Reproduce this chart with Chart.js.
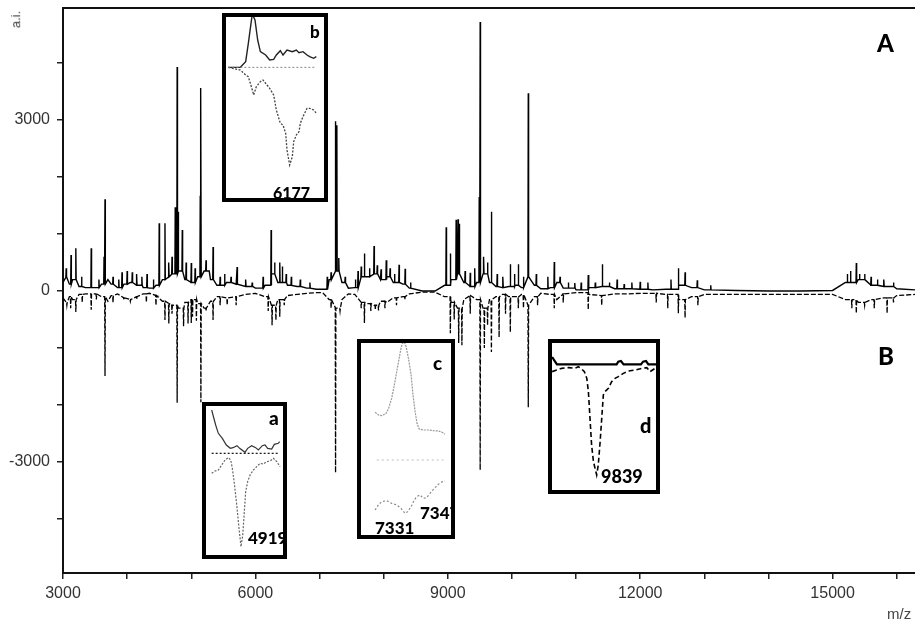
<!DOCTYPE html>
<html>
<head>
<meta charset="utf-8">
<script src="https://cdn.jsdelivr.net/npm/chart.js@4.4.1/dist/chart.umd.min.js"></script>
<style>
  body { margin: 0; background: #fff; }
  #wrap { position: relative; width: 915px; height: 625px; overflow: hidden; }
  #main { position: absolute; left: 0; top: 0; }
  .inset { position: absolute; box-sizing: border-box; border: 4px solid #000; background: #fff; overflow: hidden; }
  .inset canvas { position: absolute; left: 0; top: 0; }
  .tag { position: absolute; font-family: Lato, "Open Sans", sans-serif; font-weight: 900; line-height: 1; color: #000; white-space: nowrap; }
  .axt { position: absolute; font-family: "Liberation Sans", Arial, sans-serif; line-height: 1; color: #444; white-space: nowrap; }
</style>
</head>
<body>
<div id="wrap">
  <canvas id="main" width="915" height="625"></canvas>

  <div class="inset" style="left:222px;top:13px;width:106px;height:189px">
    <canvas id="insetB" width="98" height="181"></canvas>
    <span class="tag" style="left:84px;top:6px;font-size:17px">b</span>
    <span class="tag" style="left:47px;top:168px;font-size:16px">6177</span>
  </div>
  <div class="inset" style="left:202px;top:402px;width:85px;height:157px">
    <canvas id="insetA" width="77" height="149"></canvas>
    <span class="tag" style="left:63px;top:2px;font-size:19px">a</span>
    <span class="tag" style="left:42px;top:123px;font-size:17px">4919</span>
  </div>
  <div class="inset" style="left:357px;top:339px;width:98px;height:200px">
    <canvas id="insetC" width="90" height="192"></canvas>
    <span class="tag" style="left:72px;top:10px;font-size:19px">c</span>
    <span class="tag" style="left:59px;top:161px;font-size:17px">7347</span>
    <span class="tag" style="left:14px;top:176px;font-size:17px">7331</span>
  </div>
  <div class="inset" style="left:548px;top:339px;width:112px;height:155px">
    <canvas id="insetD" width="104" height="147"></canvas>
    <span class="tag" style="left:88px;top:72px;font-size:20px">d</span>
    <span class="tag" style="left:49px;top:124px;font-size:18px">9839</span>
  </div>

  <span class="tag" style="left:877px;top:31px;font-size:24px">A</span>
  <span class="tag" style="left:878px;top:344px;font-size:24px">B</span>
  <span class="axt" style="left:7px;top:13px;font-size:13px;transform:rotate(-90deg)">a.i.</span>
  <span class="axt" style="left:887px;top:606px;font-size:15px">m/z</span>
</div>

<script>
// main spectrum: baseline level + peaks (m/z, a.i.)
var baseMz = [3000, 3050, 3100, 3150, 3250, 3350, 3500, 3600, 3700, 3750,
  3850, 3950, 4050, 4150, 4250, 4350, 4450, 4550, 4650, 4700,
  4800, 4900, 5000, 5100, 5200, 5300, 5400, 5550, 5700, 5850,
  6000, 6150, 6250, 6350, 6500, 6650, 6800, 6950, 7050, 7150,
  7250, 7350, 7450, 7550, 7650, 7750, 7850, 7950, 8050, 8150,
  8300, 8400, 8600, 8800, 8950, 9050, 9150, 9250, 9350, 9450,
  9550, 9650, 9750, 9850, 9950, 10050, 10150, 10250, 10350, 10450,
  10600, 10700, 10800, 11000, 11200, 11400, 11600, 11800, 12000, 12200,
  12400, 12600, 12800, 13000, 13500, 14000, 14500, 15000, 15200, 15400,
  15600, 15800, 16000, 16285];
var basePos = [150, 250, 120, 200, 80, 60, 60, 120, 200, 120,
  60, 120, 150, 100, 60, 50, 100, 200, 250, 300,
  350, 200, 150, 250, 350, 200, 100, 150, 120, 80,
  50, 100, 300, 150, 100, 80, 50, 30, 30, 200,
  350, 150, 50, 60, 250, 250, 300, 200, 250, 150,
  120, 50, 0, 0, 100, 200, 300, 150, 80, 150,
  300, 150, 80, 60, 80, 100, 60, 250, 100, 40,
  60, 150, 50, 20, 60, 80, 40, 40, 30, 20,
  30, 100, 60, 20, 10, 0, 0, 10, 150, 200,
  100, 80, 40, 20];
var baseNeg = [-120, -200, -100, -150, -60, -50, -50, -100, -180, -80,
  -50, -120, -150, -100, -50, -40, -80, -180, -220, -250,
  -300, -200, -150, -220, -300, -180, -100, -120, -100, -60,
  -40, -100, -250, -150, -80, -60, -40, -30, -30, -150,
  -300, -150, -50, -60, -200, -220, -250, -180, -200, -120,
  -100, -50, -20, -20, -100, -200, -300, -150, -80, -150,
  -300, -150, -100, -60, -100, -100, -60, -250, -100, -40,
  -60, -150, -50, -30, -60, -80, -50, -50, -40, -40,
  -60, -150, -100, -60, -60, -60, -60, -60, -150, -200,
  -150, -120, -80, -60];

var posPeakMz = [3125, 3200, 3440, 3640, 3655, 3920, 4000, 4080, 4150, 4500,
  4590, 4750, 4780, 4800, 4860, 5000, 5060, 5140, 5150, 5230,
  5340, 5715, 6245, 6300, 6380, 6420, 7180, 7250, 7270, 7300,
  7650, 7700, 7850, 7900, 8040, 8100, 8240, 8335, 8975, 9040,
  9130, 9160, 9180, 9350, 9490, 9505, 9680, 9975, 10100, 10255,
  10660, 10980, 11190, 11410, 11750, 12000, 12595, 12700, 12890, 15230,
  15370, 15420, 15600, 15800];
var posPeakAi = [630, 750, 750, 600, 1610, 330, 350, 330, 300, 1190,
  1190, 1470, 3930, 1390, 1070, 490, 400, 1670, 3560, 540,
  770, 420, 1070, 500, 500, 430, 330, 2980, 2910, 580,
  430, 660, 790, 450, 540, 400, 460, 390, 1120, 660,
  1250, 1260, 1180, 320, 1650, 4720, 1390, 470, 470, 3470,
  510, 140, 280, 470, 120, 160, 400, 330, 190, 300,
  490, 300, 250, 200];
// small noise spikes on the baseline
var posMinorMz = [3050, 3290, 3560, 3780, 3870, 4230, 4310, 4410, 4650, 4700,
  4920, 5280, 5450, 5520, 5620, 5850, 5950, 6120, 6480, 6560,
  6700, 6850, 7120, 7400, 7560, 7600, 7780, 7960, 8170, 8420,
  9270, 9420, 9560, 9620, 9770, 9860, 10040, 10180, 10380, 10560,
  10750, 10880, 11080, 11300, 11520, 11640, 11870, 12120, 12480, 13100,
  15280, 15500, 15700, 15950];
var posMinorAi = [400, 250, 200, 250, 200, 250, 300, 200, 500, 600,
  500, 350, 250, 300, 250, 200, 150, 250, 300, 250,
  200, 150, 250, 250, 200, 350, 400, 380, 300, 150,
  350, 400, 600, 500, 300, 250, 300, 250, 300, 250,
  250, 150, 150, 150, 150, 200, 150, 150, 200, 100,
  350, 300, 200, 150];

var negPeakMz = [3200, 3440, 3655, 3950, 4050, 4150, 4590, 4650, 4780, 4880,
  4950, 5000, 5080, 5150, 5340, 5560, 5700, 6260, 6320, 6380,
  7250, 7700, 7870, 7920, 8330, 9040, 9170, 9220, 9505, 9570,
  9680, 9800, 9975, 10100, 10255, 10660, 11190, 12430, 12595, 12700,
  15370, 15650, 15850];
var negPeakAi = [-370, -330, -1490, -150, -180, -150, -510, -570, -1960, -620,
  -570, -560, -520, -1950, -510, -250, -250, -600, -510, -450,
  -3190, -560, -330, -340, -150, -740, -910, -950, -3140, -1000,
  -1070, -810, -720, -300, -2040, -300, -330, -300, -390, -470,
  -390, -300, -390];
var negMinorMz = [3060, 3120, 3300, 3520, 3780, 4300, 4450, 4700, 5020, 5230,
  5450, 6200, 6450, 7180, 7320, 7650, 7800, 8020, 8200, 9100,
  9350, 9620, 9900, 10180, 10400, 10800, 11400, 12250, 12900, 15300,
  15500, 15950];
var negMinorAi = [-250, -300, -200, -150, -200, -200, -250, -400, -450, -350,
  -250, -350, -250, -300, -350, -300, -350, -300, -250, -500,
  -400, -600, -400, -300, -250, -200, -250, -200, -250, -300,
  -250, -200];

var xTickVals = [3000, 4000, 5000, 6000, 7000, 8000, 9000, 10000, 11000, 12000, 13000, 14000, 15000, 16000];
var xTickLabels = [3000, 6000, 9000, 12000, 15000];
var yTickVals = [-4000, -3000, -2000, -1000, 0, 1000, 2000, 3000, 4000];
var yTickLabels = [-3000, 0, 3000];

// insets (m/z, relative a.i.)
var bTopMz = [6131, 6140, 6144, 6146, 6148, 6149, 6151, 6153, 6155, 6159, 6162, 6165, 6167, 6170, 6172, 6175, 6179, 6182, 6184, 6187, 6190, 6192, 6195, 6197];
var bTopAi = [0, 0, 17, 72, 132, 160, 142, 82, 47, 37, 22, 24, 37, 50, 37, 52, 47, 52, 44, 47, 37, 32, 27, 32];
var bLowMz = [6131, 6140, 6144, 6146, 6149, 6150, 6152, 6155, 6157, 6160, 6162, 6165, 6167, 6170, 6172, 6174, 6175, 6177, 6179, 6180, 6182, 6184, 6185, 6187, 6190, 6192, 6195, 6197];
var bLowAi = [0, -8, -23, -28, -68, -83, -58, -43, -38, -53, -63, -83, -128, -168, -173, -198, -248, -293, -268, -223, -203, -193, -168, -148, -123, -123, -128, -138];

var aTopMz = [4897, 4900, 4902, 4905, 4908, 4911, 4913, 4916, 4918, 4922, 4924, 4927, 4930, 4932, 4935, 4937, 4939, 4942, 4944, 4947, 4948];
var aTopAi = [130, 85, 60, 45, 25, 15, 17, 23, 15, 3, 15, 23, 17, 10, 23, 25, 15, 13, 27, 30, 35];
var aLowMz = [4897, 4899.5, 4902, 4904.5, 4907, 4909.5, 4911.3, 4912.5, 4914, 4915.8, 4917.5, 4919, 4920.3, 4921.5, 4922.5, 4924, 4925.8, 4928.3, 4930.8, 4933.3, 4935.8, 4938.3, 4940.8, 4943.3, 4945.8, 4948.3];
var aLowAi = [-60, -53, -50, -35, -20, -13, -20, -45, -90, -155, -225, -280, -245, -175, -115, -85, -65, -50, -40, -30, -32, -25, -23, -15, -25, -40];

var cTopMz = [7319.8, 7321, 7322.3, 7323.8, 7324.8, 7326, 7327, 7327.9, 7328.8, 7329.5, 7330, 7330.8, 7331.4, 7332.3, 7333.3, 7334, 7334.8, 7335.5, 7336.3, 7337.9, 7339.8, 7341.6, 7343.5, 7345, 7346];
var cTopAi = [143, 135, 133, 139, 153, 185, 225, 265, 305, 335, 350, 353, 340, 305, 255, 195, 145, 110, 93, 90, 90, 88, 87, 83, 77];
var cLowMz = [7319.8, 7321, 7322.3, 7324.1, 7326, 7327.9, 7329.5, 7331, 7332, 7333.3, 7334.5, 7335.4, 7336.6, 7337.9, 7339.1, 7340.4, 7342, 7343.5, 7345, 7346];
var cLowAi = [-150, -135, -125, -122, -130, -135, -145, -160, -155, -140, -120, -110, -105, -115, -113, -100, -85, -73, -65, -63];

var dTopMz = [9822.3, 9823.1, 9824.1, 9846.5, 9847.1, 9848.1, 9849.1, 9855.6, 9856.4, 9857.5, 9858.4, 9861.6];
var dTopAi = [22, 12, 0, 0, 8, 10, 0, 0, 8, 10, 0, 0];
var dLowMz = [9822.3, 9824, 9825.9, 9828.4, 9830.9, 9832.1, 9833.1, 9834.4, 9835.3, 9835.9, 9836.5, 9837.1, 9837.8, 9838.4, 9839, 9839.6, 9840.3, 9840.9, 9841.5, 9842.1, 9843.4, 9844.6, 9845.9, 9847.1, 9849, 9850.9, 9853.4, 9855.9, 9857.8, 9859, 9860.9];
var dLowAi = [-22, -17, -12, -10, -12, -7, -12, -22, -42, -82, -162, -242, -292, -312, -332, -302, -232, -162, -92, -82, -72, -52, -42, -37, -27, -20, -17, -12, -10, -22, -12];

function pairs(xs, ys) {
  return xs.map(function (x, i) { return { x: x, y: ys[i] }; });
}

// baseline points plus one narrow stick per peak
function trace(bx, by, px, py) {
  var pts = bx.map(function (x, i) { return { x: x, y: by[i], stick: false }; });
  px.forEach(function (x, i) { pts.push({ x: x, y: py[i], stick: true }); });
  pts.sort(function (a, b) { return a.x - b.x; });
  var out = [];
  var level = 0;
  pts.forEach(function (p) {
    if (p.stick) {
      out.push({ x: p.x - 5, y: level }, { x: p.x, y: p.y }, { x: p.x + 5, y: level });
    } else {
      out.push({ x: p.x, y: p.y });
      level = p.y;
    }
  });
  return out;
}

var tickFont = { family: "'Liberation Sans', Arial, sans-serif", size: 16 };

new Chart("main", {
  type: "line",
  data: {
    datasets: [
      {
        data: trace(baseMz, baseNeg, negPeakMz.concat(negMinorMz), negPeakAi.concat(negMinorAi)),
        borderColor: "#000",
        borderWidth: 1.3,
        borderDash: [5, 2],
        pointRadius: 0,
        tension: 0,
      },
      {
        data: trace(baseMz, basePos, posPeakMz.concat(posMinorMz), posPeakAi.concat(posMinorAi)),
        borderColor: "#000",
        borderWidth: 1.4,
        pointRadius: 0,
        tension: 0,
      },
    ],
  },
  options: {
    responsive: false,
    animation: false,
    devicePixelRatio: 1,
    layout: { padding: { top: 8, right: 0, left: 0, bottom: 0 } },
    plugins: { legend: { display: false }, tooltip: { enabled: false } },
    scales: {
      x: {
        type: "linear",
        min: 3000,
        max: 16285,
        afterFit: function (s) {
          s.height = 52;
          s.paddingLeft = 0;
          s.paddingRight = 0;
        },
        afterBuildTicks: function (s) {
          s.ticks = xTickVals.map(function (v) { return { value: v }; });
        },
        ticks: {
          autoSkip: false,
          maxRotation: 0,
          padding: 5,
          color: "#333",
          font: tickFont,
          callback: function (v) { return xTickLabels.indexOf(v) >= 0 ? String(v) : ""; },
        },
        grid: { drawOnChartArea: false, tickLength: 6, color: "#222", lineWidth: 1.5 },
        border: { color: "#111", width: 2 },
      },
      xTop: {
        type: "linear",
        position: "top",
        afterFit: function (s) { s.height = 0; },
        ticks: { display: false },
        grid: { drawOnChartArea: false, drawTicks: false },
        border: { color: "#111", width: 2 },
      },
      y: {
        min: -4947,
        max: 4965,
        afterFit: function (s) {
          s.width = 63;
          s.paddingTop = 0;
          s.paddingBottom = 0;
        },
        afterBuildTicks: function (s) {
          s.ticks = yTickVals.map(function (v) { return { value: v }; });
        },
        ticks: {
          autoSkip: false,
          padding: 7,
          color: "#333",
          font: tickFont,
          callback: function (v) { return yTickLabels.indexOf(v) >= 0 ? String(v) : ""; },
        },
        grid: { drawOnChartArea: false, tickLength: 6, color: "#222", lineWidth: 1.5 },
        border: { color: "#111", width: 2 },
      },
    },
  },
});

function inset(id, xr, yr, series) {
  new Chart(id, {
    type: "line",
    data: {
      datasets: series.map(function (s) {
        return {
          data: s.data,
          borderColor: s.color,
          borderWidth: s.width,
          borderDash: s.dash || [],
          pointRadius: 0,
          tension: 0,
        };
      }),
    },
    options: {
      responsive: false,
      animation: false,
      devicePixelRatio: 1,
      layout: { padding: 0 },
      plugins: { legend: { display: false }, tooltip: { enabled: false } },
      scales: {
        x: { type: "linear", display: false, min: xr[0], max: xr[1] },
        y: { display: false, min: yr[0], max: yr[1] },
      },
    },
  });
}

inset("insetB", [6129.25, 6202.75], [-392, 151], [
  { data: pairs([6131, 6197], [0, 0]), color: "#888", width: 1, dash: [2, 2] },
  { data: pairs(bTopMz, bTopAi), color: "#222", width: 1.4 },
  { data: pairs(bLowMz, bLowAi), color: "#444", width: 1.3, dash: [2, 1.5] },
]);
inset("insetA", [4892.75, 4950.5], [-305, 142], [
  { data: pairs([4897, 4948], [0, 0]), color: "#111", width: 1.2, dash: [2, 2] },
  { data: pairs(aTopMz, aTopAi), color: "#333", width: 1.2 },
  { data: pairs(aLowMz, aLowAi), color: "#666", width: 1.2, dash: [2, 1.5] },
]);
inset("insetC", [7314.5, 7348.25], [-225, 351], [
  { data: pairs([7320.4, 7345.4], [0, 0]), color: "#bbb", width: 1, dash: [2, 3] },
  { data: pairs(cTopMz, cTopAi), color: "#999", width: 1.2, dash: [2, 1] },
  { data: pairs(cLowMz, cLowAi), color: "#888", width: 1.2, dash: [2, 2] },
]);
inset("insetD", [9822.25, 9861.25], [-377, 64], [
  { data: pairs(dTopMz, dTopAi), color: "#000", width: 2.2 },
  { data: pairs(dLowMz, dLowAi), color: "#000", width: 1.6, dash: [5, 3] },
]);
</script>
</body>
</html>
